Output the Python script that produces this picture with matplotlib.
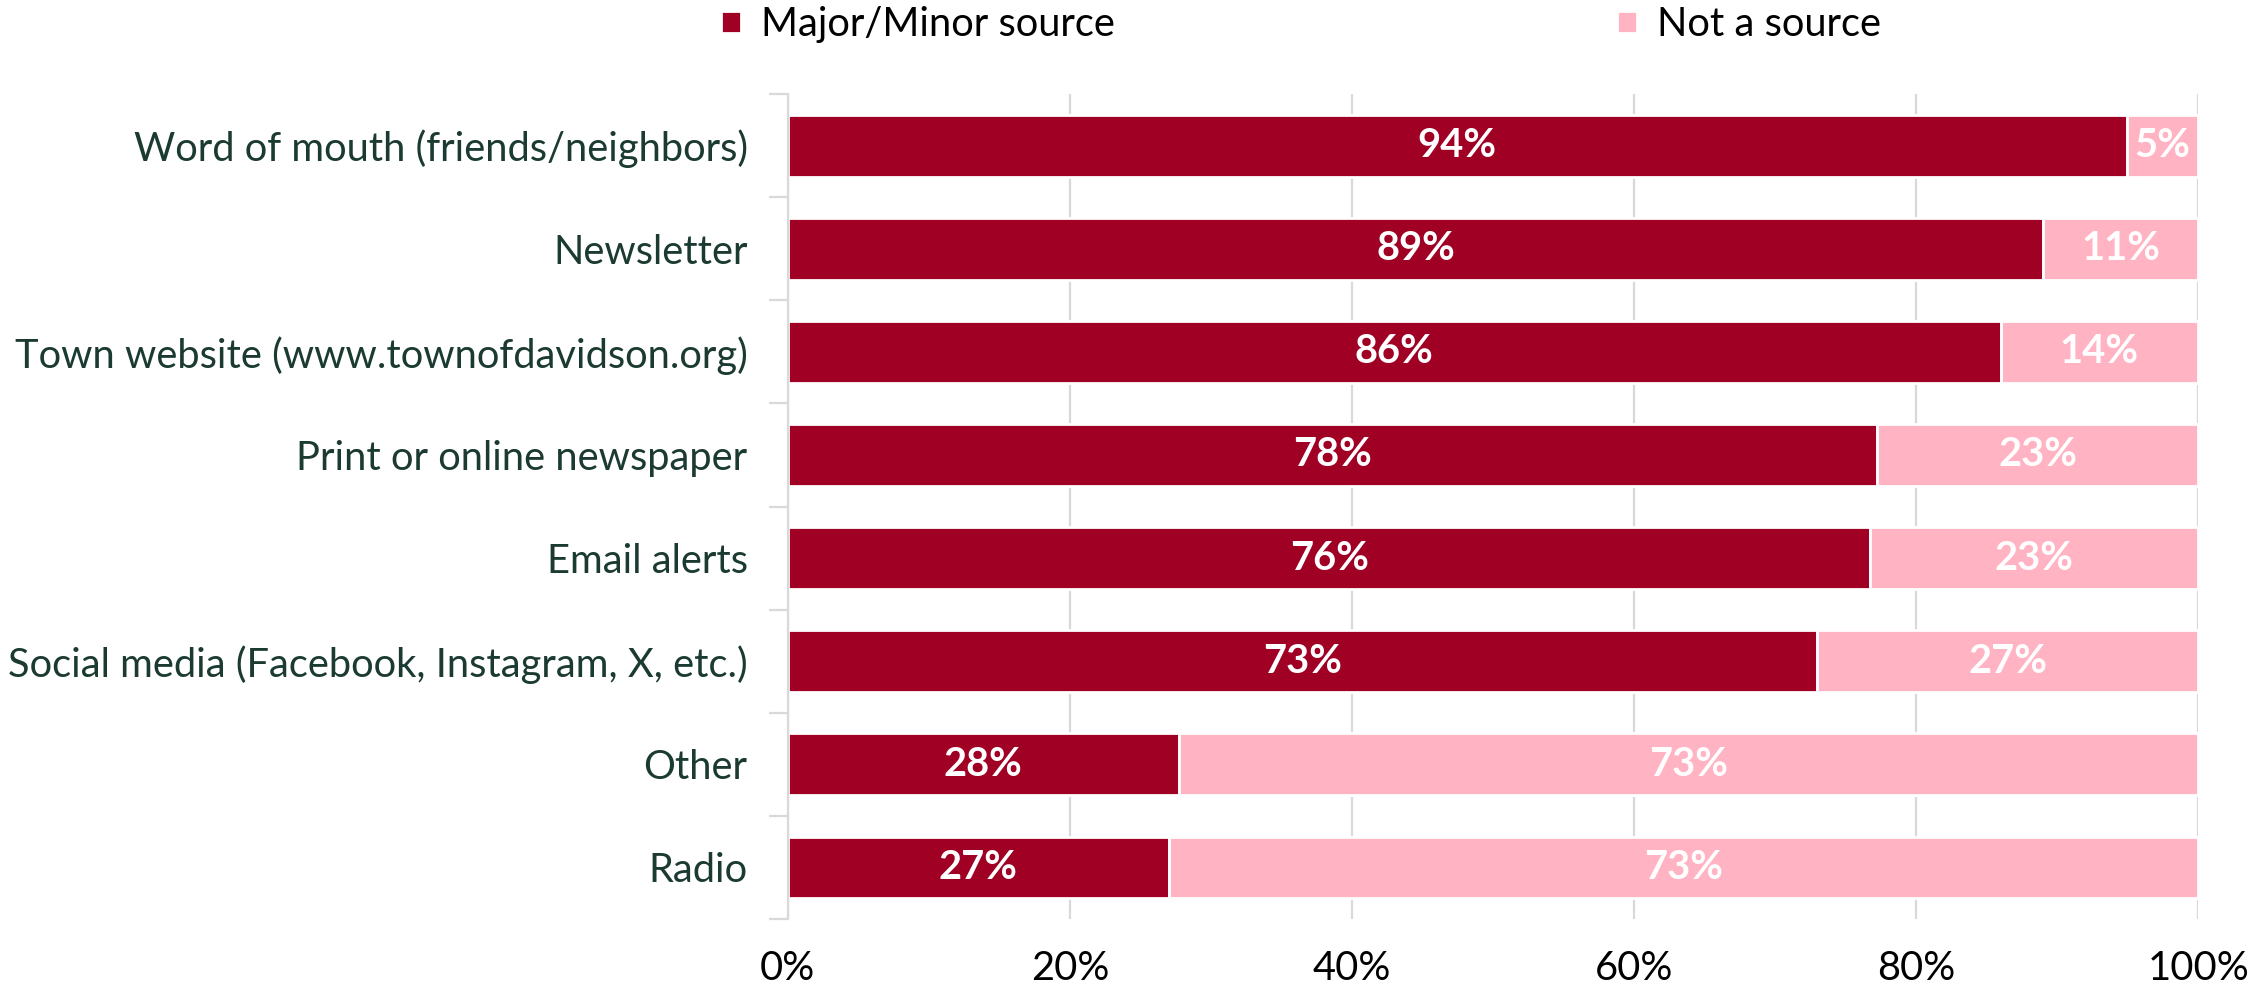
import matplotlib
matplotlib.use("Agg")
import matplotlib.pyplot as plt
import numpy as np

plt.rcParams['font.family'] = ['Lato', 'DejaVu Sans']

categories = [
    "Word of mouth (friends/neighbors)",
    "Newsletter",
    "Town website (www.townofdavidson.org)",
    "Print or online newspaper",
    "Email alerts",
    "Social media (Facebook, Instagram, X, etc.)",
    "Other",
    "Radio",
]
major_minor = [94, 89, 86, 78, 76, 73, 28, 27]
not_source = [5, 11, 14, 23, 23, 27, 73, 73]
series_names = ["Major/Minor source", "Not a source"]
x_ticks = [0, 20, 40, 60, 80, 100]

dark = "#A00024"
pink = "#FFB3C3"
label_color = "#1B3A32"

# 100% stacked: each row is normalised by its own total
mm = np.array(major_minor, dtype=float)
ns = np.array(not_source, dtype=float)
total = mm + ns
mm_share = mm / total * 100
ns_share = ns / total * 100

fig = plt.figure(figsize=(22.51, 9.93), dpi=100)
ax = fig.add_axes([0.350, 0.0745, 0.6265, 0.8308])

y = np.arange(len(categories))
h = 0.6
ax.barh(y, mm_share, height=h, color=dark, edgecolor="white", linewidth=2.0,
        label=series_names[0], zorder=3)
ax.barh(y, ns_share, left=mm_share, height=h, color=pink, edgecolor="white",
        linewidth=2.0, label=series_names[1], zorder=3)

fs = 28.7
for yi, a, b, va, vb in zip(y, mm_share, ns_share, major_minor, not_source):
    ax.text(a / 2, yi, f"{va}%", ha="center", va="center", color="white",
            fontsize=fs, fontweight="bold", zorder=4)
    ax.text(a + b / 2, yi, f"{vb}%", ha="center", va="center", color="white",
            fontsize=fs, fontweight="bold", zorder=4)

ax.set_xlim(0, 100)
ax.set_ylim(len(categories) - 0.5, -0.5)
ax.set_xticks(x_ticks)
ax.set_xticklabels([f"{t}%" for t in x_ticks], fontsize=fs, color="black")
ax.tick_params(axis="x", length=0, pad=22)
ax.grid(axis="x", color="#D9D9D9", linewidth=1.6, zorder=0)

ax.set_yticks(y)
ax.set_yticklabels(categories, fontsize=fs, color=label_color)
ax.tick_params(axis="y", length=0, pad=29)
ax.set_yticks(np.arange(-0.5, len(categories), 1), minor=True)
ax.tick_params(axis="y", which="minor", length=14, width=1.6, color="#D9D9D9")

for s in ["top", "right", "bottom"]:
    ax.spines[s].set_visible(False)
ax.spines["left"].set_color("#D9D9D9")
ax.spines["left"].set_linewidth(1.6)
ax.spines["left"].set_zorder(5)

leg = fig.legend(loc="upper center", bbox_to_anchor=(0.578, 1.03), ncol=2,
                 frameon=False, fontsize=fs, handlelength=0.5, handleheight=0.5,
                 handletextpad=0.5, columnspacing=12.6)
for t in leg.get_texts():
    t.set_color("black")

fig.savefig("out.png", dpi=100)
